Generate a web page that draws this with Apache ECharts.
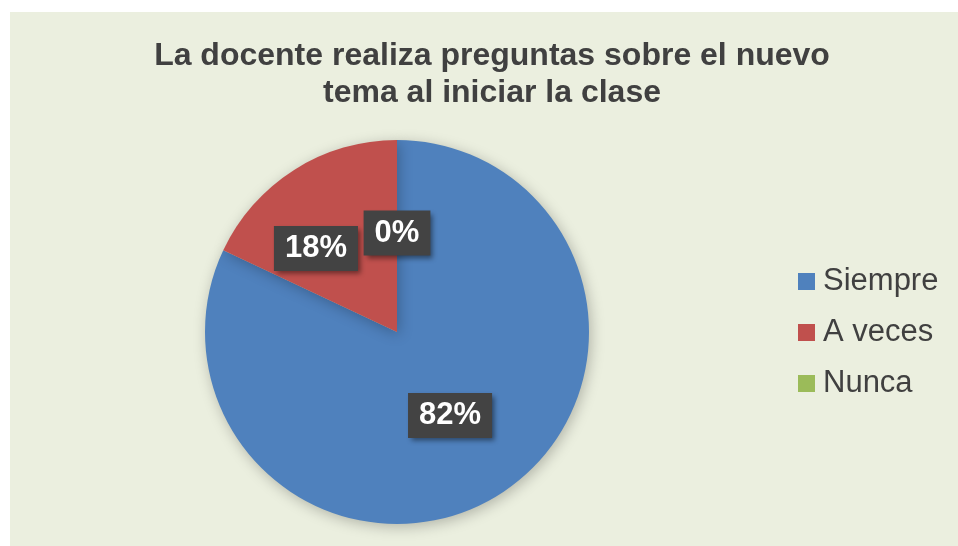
<!DOCTYPE html>
<html>
<head>
	<meta charset="utf-8">
	<title>La docente realiza preguntas</title>
	<script src="https://cdn.jsdelivr.net/npm/echarts@6/dist/echarts.min.js"></script>
	<style>
		body { margin: 0; background: #fff; }
		#main { position: absolute; left: 10px; top: 12px; width: 948px; height: 534px; background: #ebefdf; }
	</style>
</head>
<body>
	<div id="main"></div>
	<script type="text/javascript">
		var categories = ['Siempre', 'A veces', 'Nunca'];
		var values = [82, 18, 0];
		var colors = ['#4f81bd', '#c0504d', '#9bbb59'];

		var myChart = echarts.init(document.getElementById('main'));

		var pieData = categories.map(function (name, i) {
			return { name: name, value: values[i], itemStyle: { color: colors[i] } };
		});

		myChart.setOption({
			backgroundColor: '#ebefdf',
			title: {
				text: 'La docente realiza preguntas sobre el nuevo\ntema al iniciar la clase',
				left: 477,
				textAlign: 'center',
				top: 21,
				textStyle: {
					fontFamily: 'Liberation Sans, Arial, sans-serif',
					fontSize: 32,
					lineHeight: 37,
					fontWeight: 'bold',
					color: '#404040'
				}
			},
			legend: {
				orient: 'vertical',
				left: 783,
				top: 249,
				itemWidth: 17,
				itemHeight: 17,
				itemGap: 20,
				icon: 'rect',
				data: categories,
				textStyle: {
					fontFamily: 'Liberation Sans, Arial, sans-serif',
					fontSize: 31,
					color: '#404040',
					padding: [0, 0, 0, 3]
				}
			},
			series: [{
				type: 'pie',
				center: [387, 320],
				radius: 192,
				startAngle: 90,
				clockwise: true,
				avoidLabelOverlap: false,
				itemStyle: {
					shadowBlur: 14,
					shadowColor: 'rgba(0,0,0,0.25)',
					shadowOffsetX: 2,
					shadowOffsetY: 3
				},
				label: {
					show: true,
					position: 'inside',
					formatter: function (p) { return Math.round(p.percent) + '%'; },
					fontFamily: 'Liberation Sans, Arial, sans-serif',
					fontSize: 31,
					fontWeight: 'bold',
					color: '#fff',
					backgroundColor: '#434343',
					padding: [7, 11, 7, 11],
					shadowBlur: 5,
					shadowColor: 'rgba(0,0,0,0.45)',
					shadowOffsetX: 3,
					shadowOffsetY: 3
				},
				labelLayout: function (params) {
					if (params.dataIndex === 1) {
						return { dx: -28 };
					}
					return {};
				},
				labelLine: { show: false },
				emphasis: { disabled: true },
				data: pieData
			}]
		});
	</script>
</body>
</html>
